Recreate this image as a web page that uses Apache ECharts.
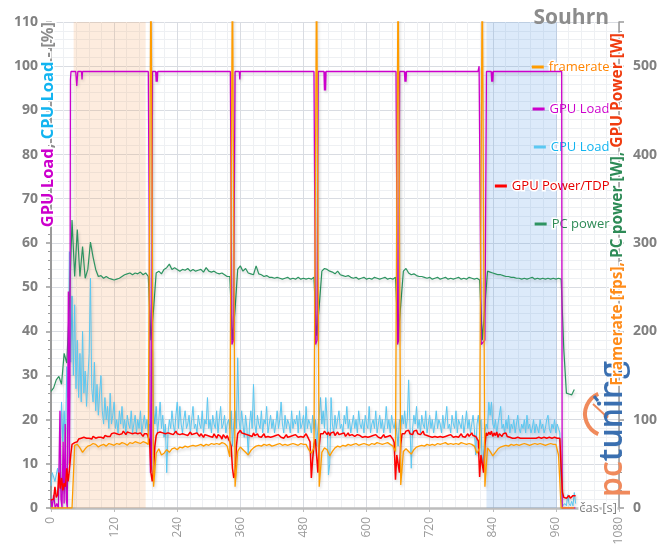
<!DOCTYPE html>
<html><head><meta charset="utf-8">
<script src="https://cdn.jsdelivr.net/npm/echarts/dist/echarts.min.js"></script>
<style>html,body{margin:0;padding:0;background:#fff}#c{width:660px;height:545px}</style>
</head><body><div id="c"></div>
<script>
// sampling steps (seconds)
const stepCoarse = 5;   // framerate, PC power
const stepFine = 2.5;   // CPU load, GPU power
// framerate [fps] (right axis), every 5 s
const framerate = [
 0,0,0,0,0,0,0,0,0,
 71,72,68,63,67,70,71,73,72,69,71,72,70,73,72,71,73,72,74,73,71,74,73,75,74,73,75,74,72,
 620,
 24,62,67,60,62,66,63,67,68,66,69,68,70,69,70,71,70,71,72,70,72,71,73,72,73,72,74,73,70,58,
 620,
 24,64,69,66,63,60,65,68,70,71,70,72,71,72,70,71,72,73,71,72,71,72,73,72,71,73,72,72,66,62,68,
 620,
 24,63,68,66,59,64,68,70,69,71,70,72,71,72,73,71,72,73,72,71,73,72,74,73,72,73,74,72,70,64,
 620,
 26,64,67,64,61,66,69,70,71,70,72,71,72,71,73,72,73,74,72,73,72,73,72,74,73,72,73,72,70,62,68,
 620,
 24,68,64,59,63,67,69,70,71,70,72,71,72,71,72,73,72,71,72,73,72,73,72,71,72,73,72,72,60,
 0,0,0,0,0,0
];
// PC power [W] (right axis), every 5 s
const pcPower = [
 132,136,145,149,140,175,164,230,326,
 262,315,262,296,260,270,301,284,270,262,263,260,262,260,259,258,259,260,262,264,265,266,264,266,265,267,264,266,262,
 190,
 225,266,268,265,270,272,276,270,272,270,268,270,269,271,268,270,268,269,270,267,272,268,267,268,266,265,266,264,262,262,
 190,
 225,270,274,268,271,266,265,264,274,265,264,262,263,261,261,260,261,260,259,260,261,259,260,259,261,259,260,259,260,259,261,
 195,
 228,268,271,270,268,267,265,268,264,263,262,263,261,260,261,259,260,261,259,260,259,261,260,259,260,261,259,260,259,261,
 192,
 230,268,271,266,264,265,263,262,262,261,260,261,259,260,261,259,260,261,259,260,259,260,261,259,260,259,261,260,259,260,258,
 190,
 228,268,267,266,265,264,264,263,262,262,261,261,260,260,259,260,259,260,261,259,260,259,260,259,260,259,260,259,260,
 259,180,130,129,128,134
];
// CPU load [%] (left axis), every 2.5 s
const cpuLoad = [
 5,8,7,6,6,9,7,12,24,15,22,14,32,25,58,33,48,
 30,46,27,38,25,35,24,40,26,31,23,29,35,52,27,24,33,22,28,21,26,30,22,19,25,20,23,18,26,19,
 21,24,18,20,17,22,19,23,18,20,17,21,19,18,22,17,19,21,17,20,18,22,17,19,21,18,20,17,19,
 15,
 36,22,19,23,17,20,24,18,21,16,19,8,17,20,18,22,19,17,21,24,18,23,19,17,20,22,18,19,21,17,
 20,23,18,19,17,21,19,18,22,17,20,19,25,18,20,17,21,19,18,22,17,20,23,18,19,21,17,19,20,18,22,
 14,
 19,22,18,34,20,17,22,19,16,21,18,12,19,22,18,28,19,17,21,19,18,22,17,20,19,23,17,19,21,18,
 20,17,19,22,18,20,24,19,17,21,18,20,19,17,22,18,20,19,21,17,22,18,19,21,17,23,18,20,19,17,21,18,20,
 14,
 18,21,25,19,22,18,25,20,7.5,10,25,19,17,21,18,20,22,18,19,17,21,19,23,18,20,17,19,21,18,20,
 17,22,19,18,20,17,21,19,18,23,17,19,20,18,22,17,19,21,18,20,17,19,23,18,20,17,21,19,18,20,17,
 14,
 20,18,21,19,22,18,20,29,19,9,18,21,19,23,18,20,17,21,19,18,22,17,19,21,18,20,17,19,22,18,
 20,19,17,21,18,20,23,18,19,17,21,19,18,22,17,20,19,18,21,17,19,22,18,20,17,19,21,18,12,19,21,18,20,
 10,
 12,17,19,18,24,21,24,19,18,20,17,19,21,23,18,19,17,20,18,21,17,19,18,20,17,19,21,18,17,19,
 18,20,17,21,18,19,17,18,20,17,19,18,17,20,18,19,17,18,20,21,18,17,19,18,20,17,19,18,17,
 2,0.5,0.3,1,0.5,3,1,0.5,1.5,0.5,3.5,1
];
// GPU power [W] (right axis), every 2.5 s
const gpuPower = [
 9,9,10,24,12,15,40,22,34,20,28,24,45,30,43,60,72,
 71,74,76,75,78,77,79,78,80,78,79,81,79,80,78,81,80,79,81,80,82,80,81,79,82,80,81,83,81,84,
 82,85,83,84,86,83,85,84,87,85,83,86,84,85,87,84,86,85,87,84,86,85,83,81,84,86,84,82,76,
 40,
 30,45,70,82,85,83,86,88,85,87,84,86,85,87,84,86,83,85,87,84,86,83,85,84,86,83,85,82,84,86,
 83,81,84,82,85,83,81,84,82,80,83,85,82,84,81,83,80,84,82,79,83,85,81,78,83,81,79,82,78,75,70,
 45,
 34,40,70,84,86,88,85,87,84,86,83,85,82,84,81,85,82,80,84,81,83,80,82,84,80,82,81,83,80,82,
 81,79,82,80,83,81,80,82,79,81,83,80,82,81,79,82,80,83,81,80,82,81,83,80,82,84,81,79,75,34,55,72,78,
 60,
 40,70,84,86,84,87,85,83,86,82,85,83,86,82,84,86,83,81,84,82,85,81,83,85,82,80,83,84,81,80,
 83,81,82,84,80,82,81,83,80,82,81,79,82,80,83,81,80,82,79,81,83,80,82,81,79,82,80,78,74,32,60,
 50,
 40,72,84,86,84,87,85,88,84,86,83,87,85,88,84,86,83,85,87,83,85,82,84,81,83,80,82,81,83,80,
 82,81,83,80,82,81,79,82,80,83,81,80,82,81,83,80,82,84,81,83,80,82,84,81,83,85,82,84,81,80,76,35,60,
 50,
 40,70,85,82,86,83,87,81,85,82,86,80,84,86,81,84,82,85,81,83,80,82,79,80,79,79,80,79,79,80,
 79,79,79,80,79,79,79,80,79,79,79,79,80,79,79,79,80,79,79,79,80,79,79,79,80,79,79,79,79,
 45,18,12,13,11,12,14,11,13,14,12,14
];
// GPU load [%] (left axis), [time s, value]
const gpuLoad = [
 [0,2],[2,0],[5,3],[8,0],[11,1],[14,0],[17,22],[19,2],[21,0],[23,15],[25,1],[27,19],[29,2],[31,0],[33,49],[35,10],[36,30],[37,97],[38,98.8],
 [47,98.8],[49,95.5],[51,98.8],[58,98.8],[59,97],[60,98.8],
 [185,98.8],[187,60],[189,8],[191,9],[193,98.8],[199,98.8],[200,96.5],[201,98.8],[202,96.5],[203,98.8],
 [341,98.8],[344,37],[347,38],[350,98.8],[358,98.8],[359,97],[360,98.8],
 [500,98.8],[503,37],[506,38],[508,98.8],[519,98.8],[520,94.5],[521,98.8],[522,94.5],[523,98.8],
 [656,98.8],[659,37],[661,38],[663,98.8],[672,98.8],[673,96.5],[674,98.8],[675,96.5],[676,98.8],
 [812,98.8],[814,100],[818,37],[825,38],[828,98.8],[837,98.8],[838,96.5],[839,98.8],[840,96.5],[841,98.8],
 [971,98.8],[972,0],[997,0]
];
// shaded ranges [s]
const shadeOrange = [43, 180];
const shadeBlue = [828, 962];
const seriesNames = ['framerate','GPU Load','CPU Load','GPU Power/TDP','PC power'];

function pairs(arr, step){ return arr.map((v,i)=>[i*step, v]); }
const FONT = 'Open Sans';
const sh = {shadowColor:'rgba(0,0,0,0.18)', shadowBlur:3, shadowOffsetX:1, shadowOffsetY:2};

const lineColors = {'framerate':'#ff9c00','GPU Load':'#cc00cc','CPU Load':'#5bc8f2','GPU Power/TDP':'#ff0000','PC power':'#2e9461'};
const textColors = {'framerate':'#ff8400','GPU Load':'#cc00cc','CPU Load':'#12b4f0','GPU Power/TDP':'#e60000','PC power':'#2e8b57'};
const legendTops = [59, 101, 139, 178, 216];

const legends = seriesNames.map((n,i)=>({
  data:[n], right:49, top:legendTops[i], orient:'vertical', padding:0,
  itemWidth:12, itemHeight:3, icon:'rect', selectedMode:false,
  itemStyle:{shadowBlur:0, shadowOffsetX:0, shadowOffsetY:0},
  textStyle:{color:textColors[n], fontSize:13, fontFamily:FONT, textBorderColor:'#fff', textBorderWidth:3}
}));

function mkLine(name, data, yIdx, width, z){
  return {name, type:'line', data, yAxisIndex:yIdx, showSymbol:false, symbol:'none', z,
    lineStyle:Object.assign({width, color:lineColors[name]}, sh), itemStyle:{color:lineColors[name]}};
}

const cpuSeries = mkLine('CPU Load', pairs(cpuLoad, stepFine), 0, 1, 2);
cpuSeries.markArea = {silent:true, data:[
  [{xAxis:shadeOrange[0], itemStyle:{color:'rgba(245,160,90,0.2)'}},{xAxis:shadeOrange[1]}],
  [{xAxis:shadeBlue[0], itemStyle:{color:'rgba(80,150,230,0.2)'}},{xAxis:shadeBlue[1]}]
]};

const axisGrey = '#9a9a9a';
const num = v => String(v);
const chart = echarts.init(document.getElementById('c'), null, {renderer:'canvas'});
chart.setOption({
  animation:false,
  backgroundColor:'#fff',
  textStyle:{fontFamily:FONT},
  title:{text:'Souhrn', right:51, top:8, padding:0, textStyle:{fontSize:21, fontWeight:'bold', color:'#8c8c8c', fontFamily:FONT}},
  grid:{left:51, right:41, top:22, bottom:37, containLabel:false, outerBoundsMode:'none'},
  legend:legends,
  xAxis:{type:'value', min:0, max:1080, interval:120,
    axisLine:{show:true, onZero:false, lineStyle:{color:'#bdbdbd', width:2.5}},
    axisTick:{show:true, length:4, lineStyle:{color:'#bdbdbd'}},
    axisLabel:{rotate:90, margin:9, color:'#9a9a9a', fontSize:12, fontFamily:FONT, formatter:num},
    splitLine:{show:true, lineStyle:{color:'#d9dce2', width:1}},
    minorTick:{show:false, splitNumber:5},
    minorSplitLine:{show:true, lineStyle:{color:'#eef0f3', width:1}}
  },
  yAxis:[
    {type:'value', min:0, max:110, interval:10, position:'left',
      axisLine:{show:true, lineStyle:{color:axisGrey, width:2}},
      axisTick:{show:true, length:5, lineStyle:{color:axisGrey, width:1.5}},
      minorTick:{show:true, splitNumber:5, length:3, lineStyle:{color:axisGrey}},
      axisLabel:{color:'#808080', fontSize:14, fontWeight:'bold', margin:13, fontFamily:FONT, formatter:num},
      splitLine:{show:true, lineStyle:{color:'#d9dce2', width:1}},
      minorSplitLine:{show:true, lineStyle:{color:'#eef0f3', width:1}}
    },
    {type:'value', min:0, max:550, interval:100, position:'right',
      axisLine:{show:true, lineStyle:{color:axisGrey, width:1.5}},
      axisTick:{show:true, length:5, lineStyle:{color:axisGrey, width:1.5}},
      minorTick:{show:true, splitNumber:5, length:3, lineStyle:{color:axisGrey}},
      axisLabel:{color:'#808080', fontSize:14, fontWeight:'bold', margin:14, fontFamily:FONT, showMaxLabel:false, formatter:num},
      splitLine:{show:false}
    }
  ],
  series:[
    cpuSeries,
    mkLine('PC power', pairs(pcPower, stepCoarse), 1, 1.2, 3),
    mkLine('GPU Load', gpuLoad, 0, 1.3, 4),
    mkLine('GPU Power/TDP', pairs(gpuPower, stepFine), 1, 1.5, 5),
    mkLine('framerate', pairs(framerate, stepCoarse), 1, 1.3, 6)
  ],
  graphic:[
    {type:'text', x:48, y:22, rotation:Math.PI/2, z:100, silent:true,
     style:{text:'{m|GPU Load}{g|, }{c|CPU Load}{g| - [%]}', align:'right', verticalAlign:'middle',
       rich:{
        m:{fill:'#cc00cc', fontSize:16.5, fontWeight:'bold', fontFamily:FONT, stroke:'#fff', lineWidth:3},
        c:{fill:'#12b4f0', fontSize:16.5, fontWeight:'bold', fontFamily:FONT, stroke:'#fff', lineWidth:3},
        g:{fill:'#8c8c8c', fontSize:16.5, fontWeight:'bold', fontFamily:FONT, stroke:'#fff', lineWidth:3}
       }}},
    {type:'text', x:618, y:33, rotation:Math.PI/2, z:100, silent:true,
     style:{text:'{o|Framerate [fps]}{o|, }{p|PC power [W]}{p|, }{r|GPU Power [W]}', align:'right', verticalAlign:'middle',
       rich:{
        o:{fill:'#ff8c1a', fontSize:15.5, fontWeight:'bold', fontFamily:FONT, stroke:'#fff', lineWidth:3},
        p:{fill:'#2e8b57', fontSize:15.5, fontWeight:'bold', fontFamily:FONT, stroke:'#fff', lineWidth:3},
        r:{fill:'#f03c10', fontSize:15.5, fontWeight:'bold', fontFamily:FONT, stroke:'#fff', lineWidth:3}
       }}},
    {type:'text', x:617, y:508, z:100, silent:true,
     style:{text:'čas [s]', align:'right', verticalAlign:'middle', fill:'#808080', fontSize:13, fontFamily:FONT, stroke:'#fff', lineWidth:3}},
    {type:'arc', z:90, silent:true, shape:{cx:607, cy:414, r:22, startAngle:Math.PI*0.63, endAngle:Math.PI*1.37, clockwise:true},
     style:{stroke:'#f08a5c', lineWidth:4, fill:null}},
    {type:'line', z:90, silent:true, shape:{x1:593, y1:404, x2:606, y2:416}, style:{stroke:'#f08a5c', lineWidth:2}},
    {type:'circle', z:90, silent:true, shape:{cx:606, cy:416, r:2.5}, style:{fill:'#f08a5c'}},
    {type:'line', z:90, silent:true, shape:{x1:594, y1:396, x2:598, y2:401}, style:{stroke:'#3a6fb0', lineWidth:3}},
    {type:'text', x:613, y:497, rotation:Math.PI/2, z:95, silent:true,
     style:{text:'{a|pc}{b|tuning}', align:'left', verticalAlign:'middle',
       rich:{a:{fill:'#f08a5c', fontSize:32, fontWeight:600, fontFamily:FONT},
             b:{fill:'#3a6fb0', fontSize:32, fontWeight:600, fontFamily:FONT}}}}
  ]
});
</script></body></html>
